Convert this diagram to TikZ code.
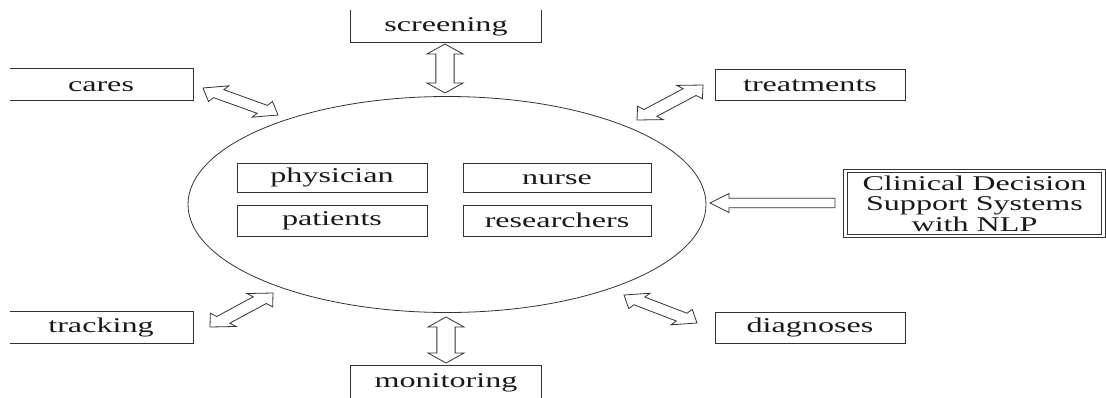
\documentclass[tikz,border=0pt]{standalone}
\usepackage{fontspec}
\usepackage{graphicx}
\usetikzlibrary{shapes.geometric,calc}
\setmainfont{Liberation Serif}
\newfontfamily\dfont{Liberation Serif}
\newcommand\wt[1]{\scalebox{1.53}[1]{\dfont #1}\rule[-2pt]{0pt}{17pt}}
\def\sx{1.9}
\def\hl{10}
\def\hw{9.5}
\def\sw{4.8}
% double-headed hollow arrow between two named coordinates
\newcommand\dblarr[2]{%
 \draw[harr] let \p1=(#1), \p2=(#2), \n1={(\x2-\x1)/\sx}, \n2={\y2-\y1},
   \n3={veclen(\n1,\n2)}, \n4={\n1/\n3}, \n5={\n2/\n3} in
 (\p1)
 -- ({\x1+\sx*(\hl*\n4-\hw*\n5)},{\y1+\hl*\n5+\hw*\n4})
 -- ({\x1+\sx*(\hl*\n4-\sw*\n5)},{\y1+\hl*\n5+\sw*\n4})
 -- ({\x2-\sx*(\hl*\n4+\sw*\n5)},{\y2-\hl*\n5+\sw*\n4})
 -- ({\x2-\sx*(\hl*\n4+\hw*\n5)},{\y2-\hl*\n5+\hw*\n4})
 -- (\p2)
 -- ({\x2-\sx*(\hl*\n4-\hw*\n5)},{\y2-\hl*\n5-\hw*\n4})
 -- ({\x2-\sx*(\hl*\n4-\sw*\n5)},{\y2-\hl*\n5-\sw*\n4})
 -- ({\x1+\sx*(\hl*\n4+\sw*\n5)},{\y1+\hl*\n5-\sw*\n4})
 -- ({\x1+\sx*(\hl*\n4+\hw*\n5)},{\y1+\hl*\n5-\hw*\n4})
 -- cycle;}
% single-headed hollow arrow from tail #1 to tip #2
\newcommand\sglarr[2]{%
 \draw[harr] let \p1=(#1), \p2=(#2), \n1={(\x2-\x1)/\sx}, \n2={\y2-\y1},
   \n3={veclen(\n1,\n2)}, \n4={\n1/\n3}, \n5={\n2/\n3} in
 ({\x1-\sx*\sw*\n5},{\y1+\sw*\n4})
 -- ({\x2-\sx*(\hl*\n4+\sw*\n5)},{\y2-\hl*\n5+\sw*\n4})
 -- ({\x2-\sx*(\hl*\n4+\hw*\n5)},{\y2-\hl*\n5+\hw*\n4})
 -- (\p2)
 -- ({\x2-\sx*(\hl*\n4-\hw*\n5)},{\y2-\hl*\n5-\hw*\n4})
 -- ({\x2-\sx*(\hl*\n4-\sw*\n5)},{\y2-\hl*\n5-\sw*\n4})
 -- ({\x1+\sx*\sw*\n5},{\y1-\sw*\n4})
 -- cycle;}
\tikzset{
 lab/.style={font=\dfont\fontsize{21}{20.5}\selectfont, text=black!90},
 openbox/.style={lab, rectangle, inner sep=0pt},
 box/.style={openbox, draw=black!80, line width=0.8pt},
 frame/.style={draw=black!80, line width=0.8pt},
 harr/.style={draw=black!80, line width=0.8pt, line join=miter},
}
\begin{document}
\begin{tikzpicture}[x=1pt,y=-1pt]
\useasboundingbox (0,0) rectangle (1106,397);
\clip (0,0) rectangle (1106,397);
% central ellipse
\node[draw=black!80, line width=0.8pt, ellipse, inner sep=0pt,
      minimum width=518pt, minimum height=216pt] (hub) at (447,204.5) {};
% inner boxes
\node[box, minimum width=190pt, minimum height=29pt] (phys) at (332,177.5) {\wt{physician}};
\node[box, minimum width=188pt, minimum height=29pt] (nurse) at (557,177.5) {\wt{nurse}};
\node[box, minimum width=190pt, minimum height=31pt] (pat) at (332,220.5) {\wt{patients}};
\node[box, minimum width=188pt, minimum height=31pt] (res) at (557,220.5) {\wt{researchers}};
% outer boxes
\node[openbox, minimum width=190pt, minimum height=32pt] (scr) at (446,26) {\wt{screening}};
\draw[frame] (scr.north west) -- (scr.south west) -- (scr.south east) -- (scr.north east);
\node[openbox, minimum width=190pt, minimum height=33pt] (mon) at (446,382.5) {\wt{monitoring}};
\draw[frame] (mon.south west) -- (mon.north west) -- (mon.north east) -- (mon.south east);
\node[openbox, minimum width=185pt, minimum height=31pt] (cares) at (101,84.5) {\wt{cares}};
\draw[frame] ([xshift=1.5pt]cares.north west) -- (cares.north east) -- (cares.south east) -- ([xshift=1.5pt]cares.south west);
\node[openbox, minimum width=185pt, minimum height=31pt] (track) at (101,327.5) {\wt{tracking}};
\draw[frame] ([xshift=1.5pt]track.north west) -- (track.north east) -- (track.south east) -- ([xshift=1.5pt]track.south west);
\node[box, minimum width=190pt, minimum height=31pt] (treat) at (810,84.5) {\wt{treatments}};
\node[box, minimum width=190pt, minimum height=31pt] (diag) at (810,327.5) {\wt{diagnoses}};
\node[lab, draw=black!80, line width=0.8pt, double, double distance=2.6pt, inner sep=0pt,
      minimum width=258pt, minimum height=65pt, align=center] (cds) at (974.5,203.5)
      {\scalebox{1.53}[1]{Clinical Decision}\\\scalebox{1.53}[1]{Support Systems}\\\scalebox{1.53}[1]{with NLP}};
% arrow end points
\coordinate (s1) at (445,44);  \coordinate (s2) at (445,93);
\coordinate (c1) at (203,88);  \coordinate (c2) at (278,115);
\coordinate (t1) at (637,120); \coordinate (t2) at (703,85);
\coordinate (k1) at (210,327); \coordinate (k2) at (273,293);
\coordinate (d1) at (624,295); \coordinate (d2) at (697,323);
\coordinate (m1) at (446,317); \coordinate (m2) at (446,363);
\coordinate (n1) at (835,203); \coordinate (n2) at (710,203);
\dblarr{s1}{s2}
\dblarr{c1}{c2}
\dblarr{t1}{t2}
\dblarr{k1}{k2}
\dblarr{d1}{d2}
\dblarr{m1}{m2}
\sglarr{n1}{n2}
\end{tikzpicture}
\end{document}
